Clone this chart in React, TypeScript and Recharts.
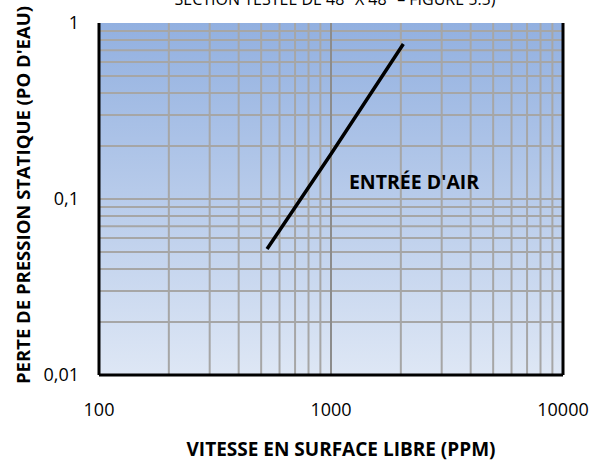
import React from 'react';
import { LineChart, Line, XAxis, YAxis, CartesianGrid, ReferenceLine, ReferenceDot, Label } from 'recharts';

const velocity = [530, 1000, 2050];
const pressure = [0.052, 0.18, 0.76];
const xTicks = [100, 1000, 10000];
const xTickLabels = ['100', '1000', '10000'];
const yTicks = [0.01, 0.1, 1];
const yTickLabels = ['0,01', '0,1', '1'];
const xGridValues = [200, 300, 400, 500, 600, 700, 800, 900, 1000, 2000, 3000, 4000, 5000, 6000, 7000, 8000, 9000];
const yGridValues = [0.02, 0.03, 0.04, 0.05, 0.06, 0.07, 0.08, 0.09, 0.1, 0.2, 0.3, 0.4, 0.5, 0.6, 0.7, 0.8, 0.9];
const titleText = 'SECTION TESTÉE DE 48" X 48" – FIGURE 5.5)';
const xTitle = 'VITESSE EN SURFACE LIBRE (PPM)';
const yTitle = "PERTE DE PRESSION STATIQUE (PO D'EAU)";
const annotation = "ENTRÉE D'AIR";
const annotationPos = { x: 2280, y: 0.125 };

const data = velocity.map((v, i) => ({ v, p: pressure[i] }));

const FONT = '"Open Sans", sans-serif';

const XTick = (props: any) => {
  const { x, y, payload } = props;
  const idx = xTicks.indexOf(payload.value);
  return (
    <text x={x} y={y + 33} textAnchor="middle" fontFamily={FONT} fontSize={18} fill="#000">
      {idx >= 0 ? xTickLabels[idx] : payload.value}
    </text>
  );
};

const YTick = (props: any) => {
  const { y, payload } = props;
  const idx = yTicks.indexOf(payload.value);
  return (
    <text x={79} y={y + 6} textAnchor="end" fontFamily={FONT} fontSize={18} fill="#000">
      {idx >= 0 ? yTickLabels[idx] : payload.value}
    </text>
  );
};

export default function App() {
  return (
    <div style={{ position: 'absolute', left: 0, top: 0, width: 600, height: 461, background: '#fff' }}>
      <svg width={0} height={0} style={{ position: 'absolute' }}>
        <defs>
          <linearGradient id="bgGrad" x1="0" y1="0" x2="0" y2="1">
            <stop offset="0%" stopColor="#92b0e0" />
            <stop offset="100%" stopColor="#dee7f5" />
          </linearGradient>
        </defs>
      </svg>
      <LineChart width={600} height={461} data={data} margin={{ top: 23, right: 0, bottom: 0, left: 0 }}>
        <CartesianGrid
          xAxisId="b"
          yAxisId="l"
          fill="url(#bgGrad)"
          fillOpacity={1}
          stroke="#a6a6a6"
          strokeWidth={2}
          verticalValues={xGridValues}
          horizontalValues={yGridValues}
        />
        <ReferenceLine xAxisId="b" yAxisId="l" x={1000} stroke="#8c8c8c" strokeWidth={2} />
        <XAxis
          xAxisId="b"
          dataKey="v"
          type="number"
          scale="log"
          domain={[100, 10000]}
          ticks={xTicks}
          allowDataOverflow
          height={86}
          tickLine={false}
          axisLine={{ stroke: '#000', strokeWidth: 3 }}
          tick={<XTick />}
          interval={0}
        >
          <Label
            content={(p: any) => {
              const vb = p.viewBox;
              return (
                <g>
                  <text x={vb.x + vb.width / 2 + 10} y={vb.y + 81} textAnchor="middle" fontFamily={FONT} fontWeight="bold" fontSize={19} fill="#000">
                    {xTitle}
                  </text>
                  <text x={335} y={5} textAnchor="middle" fontFamily={FONT} fontSize={16} fill="#000">
                    {titleText}
                  </text>
                </g>
              );
            }}
          />
        </XAxis>
        <XAxis
          xAxisId="t"
          orientation="top"
          type="number"
          scale="log"
          domain={[100, 10000]}
          allowDataOverflow
          height={0}
          tick={false}
          tickLine={false}
          axisLine={{ stroke: '#000', strokeWidth: 3 }}
        />
        <YAxis
          yAxisId="l"
          dataKey="p"
          type="number"
          scale="log"
          domain={[0.01, 1]}
          ticks={yTicks}
          allowDataOverflow
          width={99}
          tickLine={false}
          axisLine={{ stroke: '#000', strokeWidth: 3 }}
          tick={<YTick />}
          interval={0}
        >
          <Label
            content={() => {
              const cx = 22;
              const cy = 195;
              return (
                <text x={cx} y={cy} transform={`rotate(-90 ${cx} ${cy})`} textAnchor="middle" dominantBaseline="central" fontFamily={FONT} fontWeight="bold" fontSize={18.5} fill="#000">
                  {yTitle}
                </text>
              );
            }}
          />
        </YAxis>
        <YAxis
          yAxisId="r"
          orientation="right"
          type="number"
          scale="log"
          domain={[0.01, 1]}
          allowDataOverflow
          width={37}
          tick={false}
          tickLine={false}
          axisLine={{ stroke: '#000', strokeWidth: 3 }}
        />
        <ReferenceDot
          xAxisId="b"
          yAxisId="l"
          x={annotationPos.x}
          y={annotationPos.y}
          r={0}
          fill="none"
          stroke="none"
          label={(p: any) => {
            const vb = p.viewBox;
            const cx = vb.x + (vb.width || 0) / 2;
            const cy = vb.y + (vb.height || 0) / 2;
            return (
              <text x={cx} y={cy} textAnchor="middle" dominantBaseline="central" fontFamily={FONT} fontWeight="bold" fontSize={19.5} fill="#000">
                {annotation}
              </text>
            );
          }}
        />
        <Line
          xAxisId="b"
          yAxisId="l"
          dataKey="p"
          stroke="#000"
          strokeWidth={3.5}
          dot={false}
          isAnimationActive={false}
          type="linear"
        />
      </LineChart>
    </div>
  );
}
